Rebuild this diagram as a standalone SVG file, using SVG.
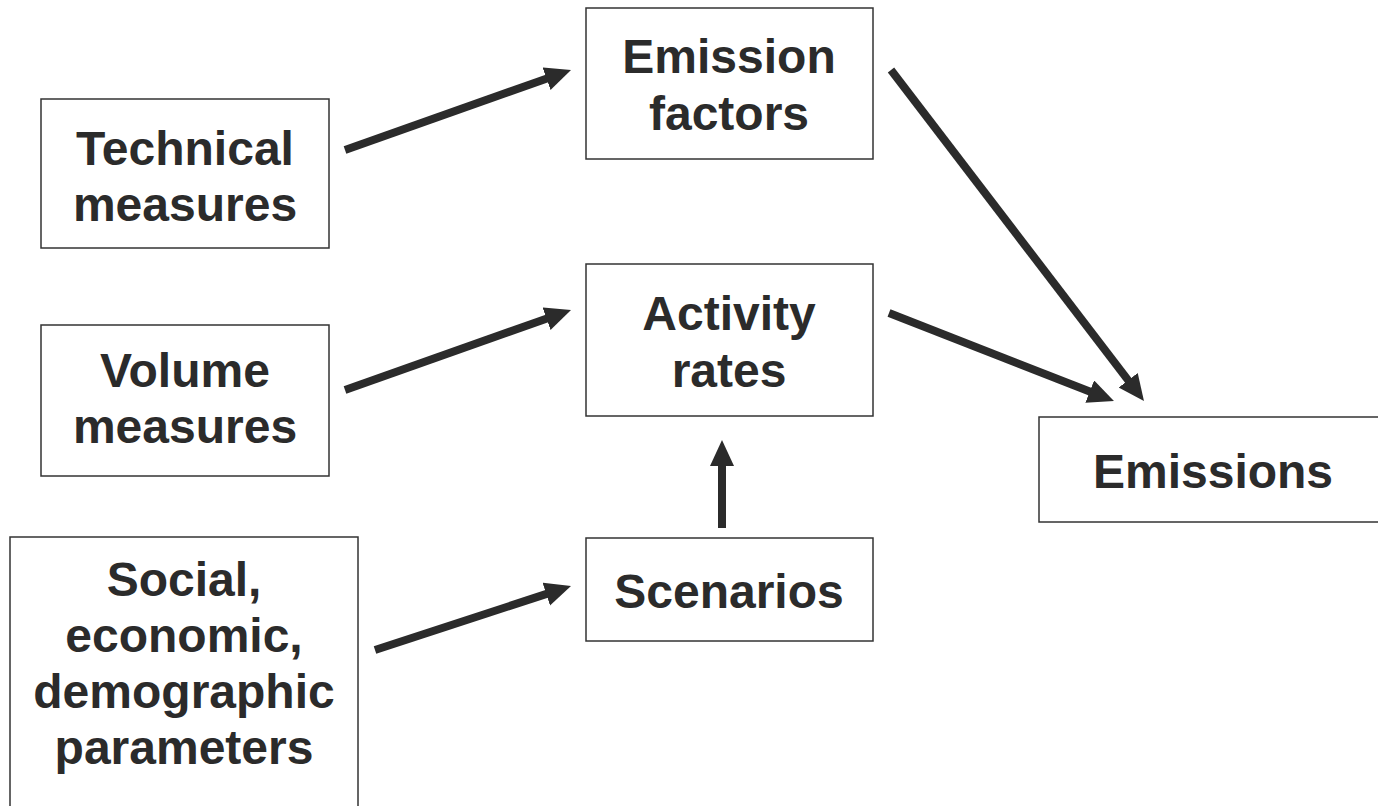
<svg xmlns="http://www.w3.org/2000/svg" width="1378" height="806" viewBox="0 0 1378 806">
<style>
.box{fill:#fff;stroke:#333;stroke-width:1.5}
.t{font-family:"Liberation Sans",Arial,sans-serif;font-weight:bold;font-size:48px;fill:#2b2b2b;text-anchor:middle}
.c{stroke:#2b2b2b;stroke-width:8;fill:none}
</style>
<defs>
<marker id="ah" markerUnits="userSpaceOnUse" markerWidth="28" markerHeight="26" refX="2" refY="12" orient="auto" viewBox="0 0 28 26">
<path d="M0,0 L26,12 L0,24 Z" fill="#2b2b2b"/>
</marker>
</defs>
<rect width="1378" height="806" fill="#fff"/>
<g id="technical"><rect class="box" x="41" y="99" width="288" height="149"/><text class="t" x="185" y="165">Technical</text><text class="t" x="185" y="221">measures</text></g>
<g id="volume"><rect class="box" x="41" y="325" width="288" height="151"/><text class="t" x="185" y="387">Volume</text><text class="t" x="185" y="443">measures</text></g>
<g id="social"><rect class="box" x="10" y="537" width="348" height="280"/><text class="t" x="184" y="596">Social,</text><text class="t" x="184" y="652">economic,</text><text class="t" x="184" y="708">demographic</text><text class="t" x="184" y="764">parameters</text></g>
<g id="emission-factors"><rect class="box" x="586" y="8" width="287" height="151"/><text class="t" x="729" y="73">Emission</text><text class="t" x="729" y="130">factors</text></g>
<g id="activity"><rect class="box" x="586" y="264" width="287" height="152"/><text class="t" x="729" y="330">Activity</text><text class="t" x="729" y="387">rates</text></g>
<g id="scenarios"><rect class="box" x="586" y="538" width="287" height="103"/><text class="t" x="729" y="608">Scenarios</text></g>
<g id="emissions"><rect class="box" x="1039" y="417" width="350" height="105"/><text class="t" x="1213" y="488">Emissions</text></g>
<g id="connectors">
<line class="c" x1="345" y1="150" x2="548.4" y2="78" marker-end="url(#ah)"/>
<line class="c" x1="345" y1="390" x2="548.4" y2="318" marker-end="url(#ah)"/>
<line class="c" x1="375" y1="650" x2="548.2" y2="593.4" marker-end="url(#ah)"/>
<line class="c" x1="722" y1="528" x2="722" y2="464" marker-end="url(#ah)"/>
<line class="c" x1="891" y1="70" x2="1129.4" y2="381.9" marker-end="url(#ah)"/>
<line class="c" x1="889" y1="313" x2="1091.6" y2="392.3" marker-end="url(#ah)"/>
</g>
</svg>
